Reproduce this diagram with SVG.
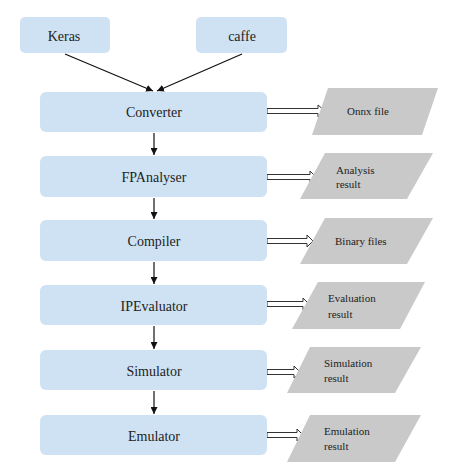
<svg xmlns="http://www.w3.org/2000/svg" width="470" height="471" viewBox="0 0 470 471">
<defs>
<style>
.box{fill:#cfe2f3;}
.out{fill:#c9c9c9;}
.t{font-family:'Liberation Serif','Times New Roman',Tinos,'DejaVu Serif',serif;font-size:14px;fill:#222;text-anchor:middle;dominant-baseline:central;}
.s{font-family:'Liberation Serif','Times New Roman',Tinos,'DejaVu Serif',serif;font-size:11px;fill:#222;}
.ln{stroke:#111;stroke-width:1.2;fill:none;}
.blk{fill:#fff;stroke:#333;stroke-width:1;}
</style>
<marker id="ah" viewBox="0 0 10 10" refX="10" refY="5" markerWidth="7" markerHeight="7" markerUnits="userSpaceOnUse" orient="auto">
<path d="M0,0 L10,5 L0,10 z" fill="#111"/>
</marker>
</defs>
<rect width="470" height="471" fill="#fff"/>
<g id="connectors">
<line class="ln" x1="65" y1="54" x2="153" y2="91" marker-end="url(#ah)"/>
<line class="ln" x1="242" y1="54" x2="157" y2="91" marker-end="url(#ah)"/>
<line class="ln" x1="154" y1="133" x2="154" y2="155" marker-end="url(#ah)"/>
<line class="ln" x1="154" y1="198" x2="154" y2="219" marker-end="url(#ah)"/>
<line class="ln" x1="154" y1="262" x2="154" y2="284" marker-end="url(#ah)"/>
<line class="ln" x1="154" y1="326" x2="154" y2="349" marker-end="url(#ah)"/>
<line class="ln" x1="154" y1="391" x2="154" y2="414" marker-end="url(#ah)"/>
<path class="blk" d="M267,108.5 H318 V105 L325,111 L318,117 V113.5 H267 Z"/>
<path class="blk" d="M267,174.5 H310 V171 L316,177 L310,183 V179.5 H267 Z"/>
<path class="blk" d="M267,238.5 H307 V235 L313,241 L307,247 V243.5 H267 Z"/>
<path class="blk" d="M267,301.5 H303 V298 L309,304 L303,310 V306.5 H267 Z"/>
<path class="blk" d="M267,369.5 H294 V366 L300,372 L294,378 V374.5 H267 Z"/>
<path class="blk" d="M267,432.5 H297 V429 L303,435 L297,441 V437.5 H267 Z"/>
</g>
<g id="keras"><rect class="box" x="20" y="17" width="90" height="36" rx="5"/><text class="t" x="64" y="36">Keras</text></g>
<g id="caffe"><rect class="box" x="196" y="17" width="91" height="36" rx="5"/><text class="t" x="242" y="36">caffe</text></g>
<g id="converter"><rect class="box" x="40" y="92" width="227" height="40" rx="6"/><text class="t" x="154" y="112">Converter</text></g>
<g id="fpanalyser"><rect class="box" x="40" y="156" width="227" height="41" rx="6"/><text class="t" x="154" y="177">FPAnalyser</text></g>
<g id="compiler"><rect class="box" x="40" y="220" width="227" height="41" rx="6"/><text class="t" x="154" y="241">Compiler</text></g>
<g id="ipevaluator"><rect class="box" x="40" y="285" width="227" height="40" rx="6"/><text class="t" x="154" y="306">IPEvaluator</text></g>
<g id="simulator"><rect class="box" x="40" y="350" width="227" height="40" rx="6"/><text class="t" x="154" y="371">Simulator</text></g>
<g id="emulator"><rect class="box" x="40" y="415" width="227" height="40" rx="6"/><text class="t" x="154" y="436">Emulator</text></g>
<g id="onnx"><polygon class="out" points="328,88 438,88 422,135 312,135"/><text class="s" x="347" y="115">Onnx file</text></g>
<g id="analysis"><polygon class="out" points="325,153 433,153 407,199 300,199"/><text class="s" x="336" y="174">Analysis</text><text class="s" x="336" y="188">result</text></g>
<g id="binary"><polygon class="out" points="325,218 433,218 407,264 300,264"/><text class="s" x="335" y="245">Binary files</text></g>
<g id="evaluation"><polygon class="out" points="318,282 425,282 400,329 292,329"/><text class="s" x="328" y="302">Evaluation</text><text class="s" x="328" y="318">result</text></g>
<g id="simulation"><polygon class="out" points="310,347 421,347 395,393 287,393"/><text class="s" x="324" y="367">Simulation</text><text class="s" x="324" y="382">result</text></g>
<g id="emulation"><polygon class="out" points="310,415 421,415 395,462 287,462"/><text class="s" x="324" y="435">Emulation</text><text class="s" x="324" y="450">result</text></g>
</svg>
